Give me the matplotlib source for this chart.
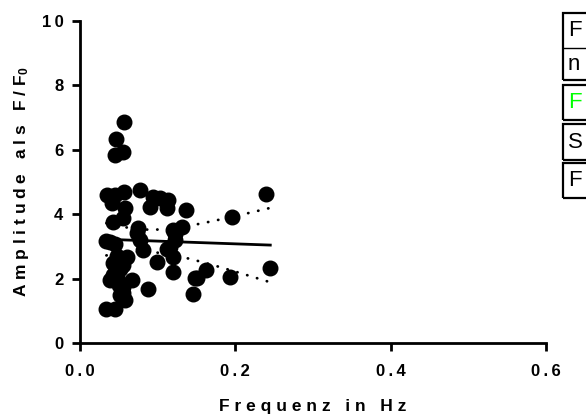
import matplotlib
matplotlib.use('Agg')
import matplotlib.pyplot as plt
from matplotlib.patches import Rectangle
from matplotlib.ticker import FuncFormatter
import numpy as np

# frequency (Hz) and amplitude (F/F0)
freq = [0.057, 0.046, 0.045, 0.055,
        0.035, 0.045, 0.057, 0.077, 0.094, 0.103, 0.113, 0.090, 0.112, 0.137,
        0.041, 0.058, 0.056, 0.239, 0.196,
        0.043, 0.075, 0.073, 0.034, 0.039, 0.045, 0.060, 0.081, 0.099, 0.120,
        0.116, 0.122, 0.131, 0.120, 0.122, 0.112, 0.120, 0.077,
        0.043, 0.055, 0.042, 0.067, 0.055, 0.088, 0.058, 0.034, 0.045, 0.049,
        0.039, 0.148, 0.146, 0.162, 0.150, 0.245, 0.193,
        0.050, 0.052, 0.048, 0.052, 0.046, 0.055]
ampl = [6.86, 6.33, 5.85, 5.92,
        4.60, 4.60, 4.68, 4.75, 4.53, 4.50, 4.44, 4.22, 4.19, 4.13,
        4.35, 4.19, 3.88, 4.63, 3.92,
        3.76, 3.57, 3.42, 3.17, 3.15, 3.08, 2.67, 2.89, 2.52, 2.20,
        2.98, 3.40, 3.60, 3.50, 3.20, 2.92, 2.67, 3.20,
        2.48, 2.42, 2.11, 1.96, 1.74, 1.68, 1.34, 1.05, 1.05, 1.96,
        1.96, 2.02, 1.52, 2.27, 2.02, 2.32, 2.05,
        1.80, 1.50, 2.70, 2.30, 2.30, 1.55]

xticks = [0.0, 0.2, 0.4, 0.6]
yticks = [0, 2, 4, 6, 8, 10]
legend_labels = ['F', 'n', 'F', 'S', 'F']
legend_colors = ['black', 'black', '#00ff00', 'black', 'black']

plt.rcParams['font.family'] = ['Liberation Sans', 'DejaVu Sans']
plt.rcParams['font.weight'] = 'bold'
plt.rcParams['mathtext.fontset'] = 'custom'
plt.rcParams['mathtext.rm'] = 'Liberation Sans:bold'
plt.rcParams['mathtext.it'] = 'Liberation Sans:bold'
plt.rcParams['mathtext.default'] = 'rm'


def spaced(s):
    return '\u2009'.join(s)


fig = plt.figure(figsize=(5.86, 4.19), dpi=100)
ax = fig.add_axes([80 / 586, 76 / 419, 466 / 586, 322 / 419])

x = np.array(freq)
y = np.array(ampl)
ax.scatter(x, y, s=110, color='black', zorder=3, clip_on=False)

# linear fit with 95% confidence band
n = len(x)
slope, icpt = np.polyfit(x, y, 1)
resid = y - (slope * x + icpt)
se = np.sqrt(np.sum(resid ** 2) / (n - 2))
xf = np.linspace(x.min(), x.max(), 100)
yf = slope * xf + icpt
half = 2.0 * se * np.sqrt(1.0 / n + (xf - x.mean()) ** 2 / np.sum((x - x.mean()) ** 2))
ax.plot(xf, yf, color='black', lw=2.0, zorder=2)
for band in (yf + half, yf - half):
    ax.plot(xf, band, color='black', lw=2.0, linestyle=(0, (0.1, 3.6)),
            dash_capstyle='round', zorder=2)

ax.set_xlim(0, 0.6)
ax.set_ylim(0, 10)
ax.set_xticks(xticks)
ax.set_yticks(yticks)
ax.xaxis.set_major_formatter(FuncFormatter(lambda v, p: spaced('%.1f' % v)))
ax.yaxis.set_major_formatter(FuncFormatter(lambda v, p: spaced('%d' % v)))
for s in ['top', 'right']:
    ax.spines[s].set_visible(False)
for s in ['left', 'bottom']:
    ax.spines[s].set_linewidth(2.0)
ax.tick_params(axis='both', direction='out', length=6, width=2.0, labelsize=12)
ax.tick_params(axis='x', pad=9)
ax.tick_params(axis='y', pad=6)

ax.set_xlabel('F r e q u e n z   i n   H z', fontsize=12.5, fontweight='bold')
ax.set_ylabel('A m p l i t u d e   a l s   F / F$_0$', fontsize=12.5, fontweight='bold')
ax.xaxis.set_label_coords(0.5, -0.175)
ax.yaxis.set_label_coords(-0.105, 0.5)

# legend boxes, cut off by the right figure edge
W, H = 586.0, 419.0
boxes = [(13, 80), (85, 120), (124, 160), (163, 198)]
for top, bot in boxes:
    fig.patches.append(Rectangle((563 / W, 1 - bot / H), 60 / W, (bot - top) / H,
                                 transform=fig.transFigure, fill=False,
                                 edgecolor='black', lw=1.6, clip_on=False))
fig.add_artist(plt.Line2D([563 / W, 1.0], [1 - 48 / H, 1 - 48 / H],
                          transform=fig.transFigure, color='black', lw=1.0))
text_y = [31, 64, 102, 142, 180]
for lab, col, ty in zip(legend_labels, legend_colors, text_y):
    fig.text(568 / W, 1 - ty / H, lab, color=col, fontsize=16,
             fontweight='normal', va='center', ha='left')

fig.savefig('out.png', dpi=100)
